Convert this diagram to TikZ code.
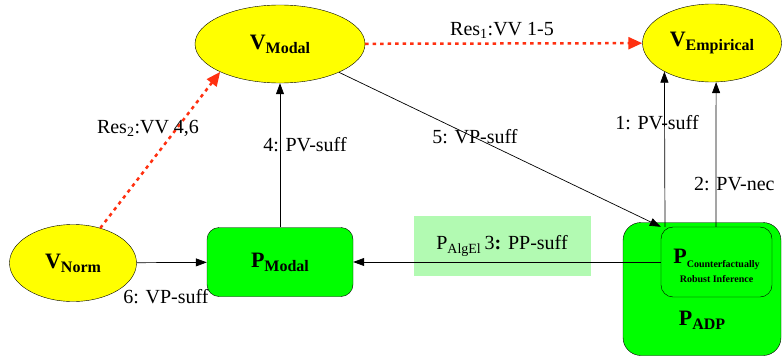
\documentclass[tikz,border=0pt]{standalone}
\usepackage{fontspec}
\setmainfont{Liberation Serif}
\usetikzlibrary{shapes.geometric,arrows.meta}
\definecolor{vyellow}{RGB}{255,255,0}
\definecolor{pgreen}{RGB}{0,255,0}
\definecolor{boxgreen}{RGB}{178,250,178}
\definecolor{resred}{RGB}{255,48,16}
\begin{document}
\begin{tikzpicture}[x=1pt, y=-1pt,
    vnode/.style={ellipse, draw, fill=vyellow, inner sep=0pt},
    pnode/.style={rectangle, rounded corners=12pt, draw, fill=pgreen, inner sep=0pt},
    big/.style={font=\fontsize{20}{22}\selectfont},
    arc/.style={draw, line width=0.7pt, -{Triangle[length=11pt, width=8pt]}},
    resarc/.style={draw=resred, line width=2.5pt, dash pattern=on 3.5pt off 4pt, -{Triangle[length=14pt, width=12pt, fill=resred]}}]
    \useasboundingbox (0,0) rectangle (782,356);
    % vertices
    \node[vnode, minimum width=170, minimum height=78] (vmodal) at (280,44)
        {\bfseries\fontsize{22}{22}\selectfont V\fontsize{16}{16}\selectfont\raisebox{-4pt}{Modal}};
    \node[vnode, minimum width=139, minimum height=78] (vemp) at (712,43)
        {\bfseries\fontsize{22}{22}\selectfont V\fontsize{16}{16}\selectfont\raisebox{-4pt}{Empirical}};
    \node[vnode, minimum width=127, minimum height=77] (vnorm) at (73,263)
        {\bfseries\fontsize{22}{22}\selectfont V\fontsize{16}{16}\selectfont\raisebox{-4pt}{Norm}};
    % programs
    \node[pnode, minimum width=146, minimum height=69] (pmodal) at (280,262)
        {\bfseries\fontsize{22}{22}\selectfont P\fontsize{16}{16}\selectfont\raisebox{-4pt}{Modal}};
    \node[pnode, rounded corners=18pt, minimum width=158, minimum height=133] (padp) at (702,289) {};
    \node[font=\bfseries] (padplabel) at (702,320)
        {\fontsize{22}{22}\selectfont P\fontsize{16}{16}\selectfont\raisebox{-4pt}{ADP}};
    \node[pnode, minimum width=111, minimum height=70] (pcri) at (716.5,262) {};
    \node[font=\bfseries, align=center, inner sep=0pt] (pcrilabel) at (716.5,266)
        {\fontsize{22}{22}\selectfont P\fontsize{10}{10}\selectfont\raisebox{-4pt}{Counterfactually}\\[5pt]
         \fontsize{10}{10}\selectfont Robust Inference};
    % edges
    \node[fill=boxgreen, minimum width=177, minimum height=60, big] (lbl3) at (502,246)
        {P\textsubscript{AlgEl}\,3\textbf{:} PP-suff};
    \draw[arc] (pcri) -- (pmodal);
    \draw[arc] (vnorm) -- (pmodal);
    \draw[arc] (pmodal) -- (vmodal);
    \draw[arc] (vmodal) -- (pcri.north west);
    \draw[arc] (pcri.north -| 665,0) -- (vemp.211);
    \draw[arc] (pcri.north -| 716,0) -- (vemp.276);
    \draw[resarc] (vmodal) -- (vemp);
    \draw[resarc] (vnorm.52) -- (vmodal.205);
    % labels
    \node[big] (lbl1) at (657,123) {1: PV-suff};
    \node[big, anchor=west, inner sep=0pt] (lbl2) at (694,184) {2: PV-nec};
    \node[big] (lbl4) at (305,145) {4: PV-suff};
    \node[big] (lbl5) at (475,137) {5: VP-suff};
    \node[big] (lbl6) at (166,297) {6: VP-suff};
    \node[big] (lblres1) at (502,30) {Res\textsubscript{1}:VV 1-5};
    \node[big] (lblres2) at (148,128) {Res\textsubscript{2}:VV 4,6};
\end{tikzpicture}
\end{document}
